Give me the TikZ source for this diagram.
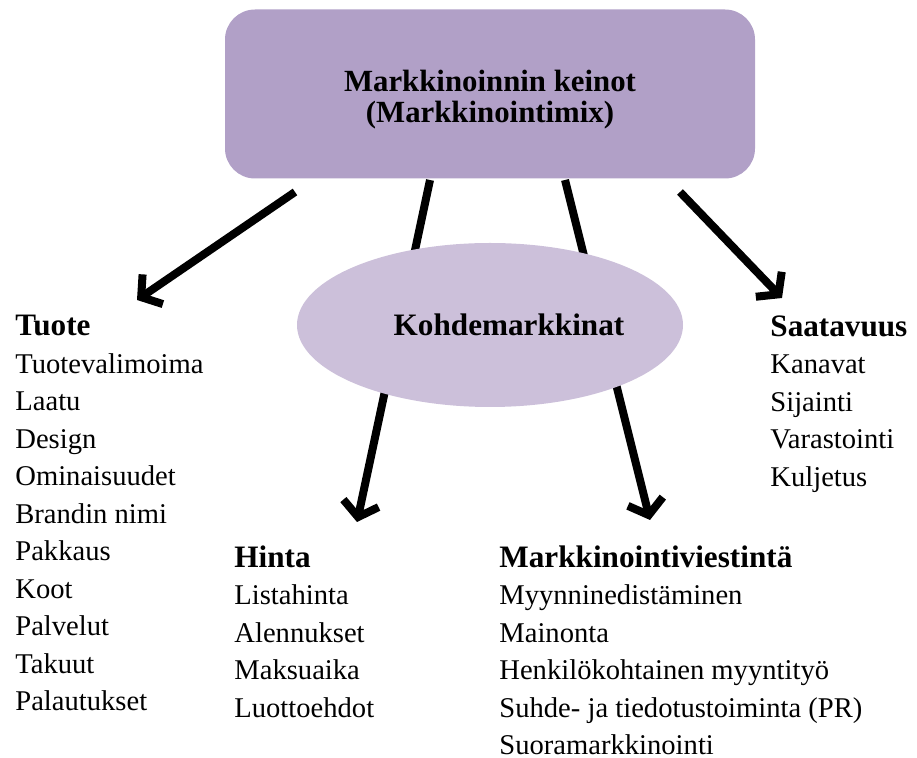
\documentclass[tikz,border=0pt]{standalone}
\usepackage{fontspec}
\setmainfont{Liberation Serif}
\usetikzlibrary{shapes.geometric,arrows.meta}
\definecolor{keinoFill}{HTML}{B1A0C7}
\definecolor{kohdeFill}{HTML}{CCC0DA}
\newcommand{\otsikko}[1]{{\fontsize{15.6}{18.75}\selectfont\bfseries #1}}
\tikzset{
  mix/.style={x=0.5pt,y=-0.5pt,font=\fontsize{14.3}{18.75}\selectfont},
  keino/.style={fill=keinoFill,rounded corners=15pt,minimum width=265pt,minimum height=84.5pt,align=center,text height=31.5pt,font=\fontsize{15.4}{15.2}\selectfont\bfseries},
  kohde/.style={ellipse,fill=kohdeFill,minimum width=193pt,minimum height=82pt,inner sep=0pt,font=\fontsize{15.6}{18.75}\selectfont\bfseries},
  lista/.style={anchor=north west,align=left,inner sep=0pt},
  nuoli/.style={line width=4pt,-{Straight Barb[length=7pt,width=18pt]}}
}
\begin{document}
\begin{tikzpicture}[mix]
\useasboundingbox (0,0) rectangle (917,758);
% main box
\node[keino] (keinot) at (490,94) {Markkinoinnin keinot\\(Markkinointimix)};
% end points of the arrows
\coordinate (tuoteAlku) at (295,192);
\coordinate (tuoteKarki) at (137,300);
\coordinate (hintaAlku) at (430,180);
\coordinate (hintaKarki) at (357,522);
\coordinate (viestAlku) at (565,180);
\coordinate (viestKarki) at (650,520);
\coordinate (saatAlku) at (680,192);
\coordinate (saatKarki) at (782,298);
\draw[nuoli] (tuoteAlku) -- (tuoteKarki);
\draw[nuoli] (hintaAlku) -- (hintaKarki);
\draw[nuoli] (viestAlku) -- (viestKarki);
\draw[nuoli] (saatAlku) -- (saatKarki);
% target market on top of the arrows
\node[kohde] (kohde) at (490,325) {\hspace*{19pt}Kohdemarkkinat};
% the four P's
\node[lista] (tuote) at (15,315) {\otsikko{Tuote}\\Tuotevalimoima\\Laatu\\Design\\Ominaisuudet\\Brandin nimi\\Pakkaus\\Koot\\Palvelut\\Takuut\\Palautukset};
\node[lista] (saatavuus) at (770,315) {\otsikko{Saatavuus}\\Kanavat\\Sijainti\\Varastointi\\Kuljetus};
\node[lista] (hinta) at (234,545) {\otsikko{Hinta}\\Listahinta\\Alennukset\\Maksuaika\\Luottoehdot};
\node[lista] (viestinta) at (499,545) {\otsikko{Markkinointiviestintä}\\Myynninedistäminen\\Mainonta\\Henkilökohtainen myyntityö\\Suhde- ja tiedotustoiminta (PR)\\Suoramarkkinointi};
\end{tikzpicture}
\end{document}
